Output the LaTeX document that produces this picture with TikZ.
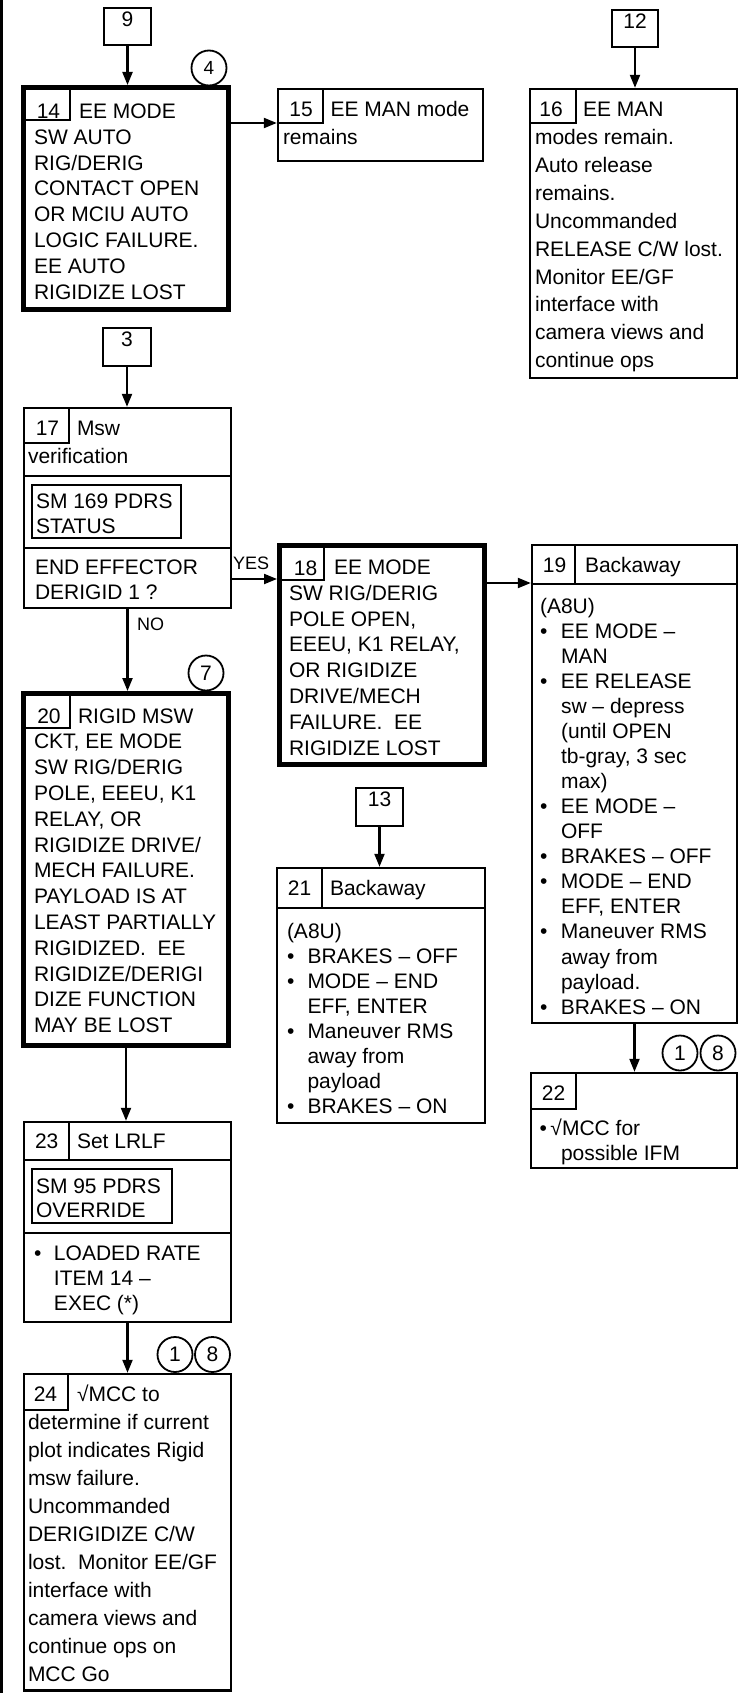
\documentclass[tikz,border=0pt]{standalone}
\usepackage{fontspec}
\setmainfont{Liberation Sans}
\usetikzlibrary{arrows.meta,fit}
\newcommand\ptxt[2]{\parbox[t]{300pt}{\raggedright\baselineskip=#1pt\relax #2}}
\newcommand\bu[1]{\makebox[#1][l]{•}}
\begin{document}
\begin{tikzpicture}[x=1pt,y=-1pt,
  font=\fontsize{21}{25.8}\selectfont,
  bx/.style={draw, line width=2.4pt, inner sep=0pt},
  tbx/.style={draw, line width=4.8pt, inner sep=0pt},
  tabx/.style={draw, line width=1.6pt, inner sep=0pt},
  hdx/.style={draw, line width=2.2pt, inner sep=0pt},
  ibx/.style={draw, line width=2pt, inner sep=0pt},
  refbx/.style={draw, line width=2.2pt, inner sep=0pt},
  circ/.style={draw, circle, line width=1.8pt, minimum size=35pt, inner sep=0pt},
  arr/.style={line width=2.1pt, -{Triangle[length=13pt,width=10pt]}},
  txt/.style={anchor=base west, inner sep=0pt, outer sep=0pt},
  num/.style={anchor=base, inner sep=0pt, outer sep=0pt},
  lbl/.style={anchor=base west, inner sep=0pt, font=\fontsize{18}{20}\selectfont}]
\useasboundingbox (0,0) rectangle (742,1693);
\draw[line width=2.4pt] (1.5,0) -- (1.5,1693);

% reference boxes
\node[refbx, fit={(104,8) (151,45)}] (b9) {9};
\node[refbx, fit={(612,10) (658,47)}] (b12) {12};
\node[refbx, fit={(103,328) (151,366)}] (b3) {3};
\node[refbx, fit={(356,788) (403,826)}] (b13) {13};

% circles
\node[circ, font=\fontsize{19}{20}\selectfont] (c4) at (209,68) {4};
\node[circ] (c7) at (206,673) {7};
\node[circ] (c1a) at (680,1053) {1};
\node[circ] (c8a) at (718,1053) {8};
\node[circ] (c1b) at (175,1354.5) {1};
\node[circ] (c8b) at (212.5,1354.5) {8};

% box 14
\node[tbx, fit={(23.4,87.4) (228.6,309.6)}] (b14) {};
\node[tabx, fit={(23.4,87.4) (70,120)}] (t14) {};
\node[num] (n14) at (48.5,118.5) {14};
\node[txt] (x14) at (34,118.5) {\ptxt{25.8}{\hspace*{45pt}EE MODE\\SW AUTO\\RIG/DERIG\\CONTACT OPEN\\OR MCIU AUTO\\LOGIC FAILURE.\\EE AUTO\\RIGIDIZE LOST}};

% box 15
\node[bx, fit={(278,89) (483,161)}] (b15) {};
\node[tabx, fit={(278,89) (323,123)}] (t15) {};
\node[num] (n15) at (301,117) {15};
\node[txt] (x15) at (283,117) {\ptxt{28}{\hspace*{47.5pt}EE MAN mode\\remains}};

% box 16
\node[bx, fit={(530,89) (737,378)}] (b16) {};
\node[tabx, fit={(530,89) (576,123)}] (t16) {};
\node[num] (n16) at (551,116.7) {16};
\node[txt] (x16) at (535,116.7) {\ptxt{27.9}{\hspace*{48pt}EE MAN\\modes remain.\\Auto release\\remains.\\Uncommanded\\RELEASE C/W lost.\\Monitor EE/GF\\interface with\\camera views and\\continue ops}};

% box 17
\node[bx, fit={(24,408) (231,608)}] (b17) {};
\node[tabx, fit={(24,408) (69,443)}] (t17) {};
\node[bx, fit={(24,476) (231,548)}] (m17) {};
\node[ibx, fit={(32,485) (181,538)}] (i17) {};
\node[num] (n17) at (47.5,435.7) {17};
\node[txt] (x17) at (28,435.7) {\ptxt{27.4}{\hspace*{49pt}Msw\\verification}};
\node[txt] (s17) at (36,508) {\ptxt{25}{SM 169 PDRS\\STATUS}};
\node[txt] (q17) at (35,574.5) {\ptxt{24.5}{END EFFECTOR\\DERIGID 1 ?}};

% box 18
\node[tbx, fit={(279.4,545.4) (484.6,764.6)}] (b18) {};
\node[tabx, fit={(279.4,545.4) (324,580)}] (t18) {};
\node[num] (n18) at (305.5,575) {18};
\node[txt] (x18) at (289,574.5) {\ptxt{25.8}{\hspace*{45pt}EE MODE\\SW RIG/DERIG\\POLE OPEN,\\EEEU, K1 RELAY,\\OR RIGIDIZE\\DRIVE/MECH\\FAILURE.\ \ EE\\RIGIDIZE LOST}};

% box 19
\node[bx, fit={(532,545) (737,1023)}] (b19) {};
\node[hdx, fit={(532,545) (737,584)}] (h19) {};
\node[tabx, fit={(532,545) (575,584)}] (t19) {};
\node[num] (n19) at (554.5,572) {19};
\node[txt] (k19) at (585,572) {Backaway};
\node[txt] (x19) at (540,613.3) {\ptxt{25.05}{(A8U)\\
\bu{21pt}EE MODE –\\\hspace*{21pt}MAN\\
\bu{21pt}EE RELEASE\\\hspace*{21pt}sw – depress\\\hspace*{21pt}(until OPEN\\\hspace*{21pt}tb-gray, 3 sec\\\hspace*{21pt}max)\\
\bu{21pt}EE MODE –\\\hspace*{21pt}OFF\\
\bu{21pt}BRAKES – OFF\\
\bu{21pt}MODE – END\\\hspace*{21pt}EFF, ENTER\\
\bu{21pt}Maneuver RMS\\\hspace*{21pt}away from\\\hspace*{21pt}payload.\\
\bu{21pt}BRAKES – ON}};

% box 20
\node[tbx, fit={(23.4,693.4) (228.6,1045.6)}] (b20) {};
\node[tabx, fit={(23.4,693.4) (70,728)}] (t20) {};
\node[num] (n20) at (49,723) {20};
\node[txt] (x20) at (34,723) {\ptxt{25.8}{\hspace*{44pt}RIGID MSW\\CKT, EE MODE\\SW RIG/DERIG\\POLE, EEEU, K1\\RELAY, OR\\RIGIDIZE DRIVE/\\MECH FAILURE.\\PAYLOAD IS AT\\LEAST PARTIALLY\\RIGIDIZED.\ \ EE\\RIGIDIZE/DERIGI\\DIZE FUNCTION\\MAY BE LOST}};

% box 21
\node[bx, fit={(277,868) (485,1123)}] (b21) {};
\node[hdx, fit={(277,868) (485,908)}] (h21) {};
\node[tabx, fit={(277,868) (322,908)}] (t21) {};
\node[num] (n21) at (299.5,895) {21};
\node[txt] (k21) at (330,895) {Backaway};
\node[txt] (x21) at (287,938.3) {\ptxt{25}{(A8U)\\
\bu{20.5pt}BRAKES – OFF\\
\bu{20.5pt}MODE – END\\\hspace*{20.5pt}EFF, ENTER\\
\bu{20.5pt}Maneuver RMS\\\hspace*{20.5pt}away from\\\hspace*{20.5pt}payload\\
\bu{20.5pt}BRAKES – ON}};

% box 22
\node[bx, fit={(531,1073) (737,1168)}] (b22) {};
\node[tabx, fit={(531,1073) (576,1109)}] (t22) {};
\node[num] (n22) at (553.5,1100) {22};
\node[txt] (x22) at (539.5,1135) {\ptxt{25}{\bu{11pt}√MCC for\\\hspace*{21.5pt}possible IFM}};

% box 23
\node[bx, fit={(24,1122) (231,1322)}] (b23) {};
\node[hdx, fit={(24,1122) (231,1160)}] (h23) {};
\node[tabx, fit={(24,1122) (69,1160)}] (t23) {};
\node[bx, fit={(24,1160) (231,1233)}] (m23) {};
\node[ibx, fit={(32,1169) (172,1223)}] (i23) {};
\node[num] (n23) at (46.7,1148) {23};
\node[txt] (k23) at (77,1148) {Set LRLF};
\node[txt] (s23) at (36,1193) {\ptxt{24}{SM 95 PDRS\\OVERRIDE}};
\node[txt] (x23) at (34,1260) {\ptxt{25}{\bu{20pt}LOADED RATE\\\hspace*{20pt}ITEM 14 –\\\hspace*{20pt}EXEC (*)}};

% box 24
\node[bx, fit={(24,1374) (231,1690.5)}] (b24) {};
\node[tabx, fit={(24,1374) (68,1410)}] (t24) {};
\node[num] (n24) at (45.5,1401.7) {24};
\node[txt] (x24) at (28,1401.7) {\ptxt{28}{\hspace*{49pt}√MCC to\\determine if current\\plot indicates Rigid\\msw failure.\\Uncommanded\\DERIGIDIZE C/W\\lost.\ \ Monitor EE/GF\\interface with\\camera views and\\continue ops on\\MCC Go}};

% connectors
\draw[arr] (b9.south) -- (b9.south |- b14.north);
\draw[arr] (b12.south) -- (b12.south |- b16.north);
\draw[arr] (b3.south) -- (b3.south |- b17.north);
\draw[arr] (b13.south) -- (b13.south |- b21.north);
\coordinate (a14) at (231,123);
\draw[arr] (a14) -- (a14 -| b15.west);
\coordinate (a17) at (232,579);
\draw[arr] (a17) -- (a17 -| b18.west);
\node[lbl] (yes) at (233,569) {YES};
\draw[arr] (b17.south) -- (b17.south |- b20.north);
\node[lbl] (no) at (137,630.5) {NO};
\coordinate (a18) at (487,583);
\draw[arr] (a18) -- (a18 -| b19.west);
\draw[arr] (b19.south) -- (b19.south |- b22.north);
\draw[arr] (b20.south) -- (b20.south |- b23.north);
\draw[arr] (b23.south) -- (b23.south |- b24.north);
\end{tikzpicture}
\end{document}
